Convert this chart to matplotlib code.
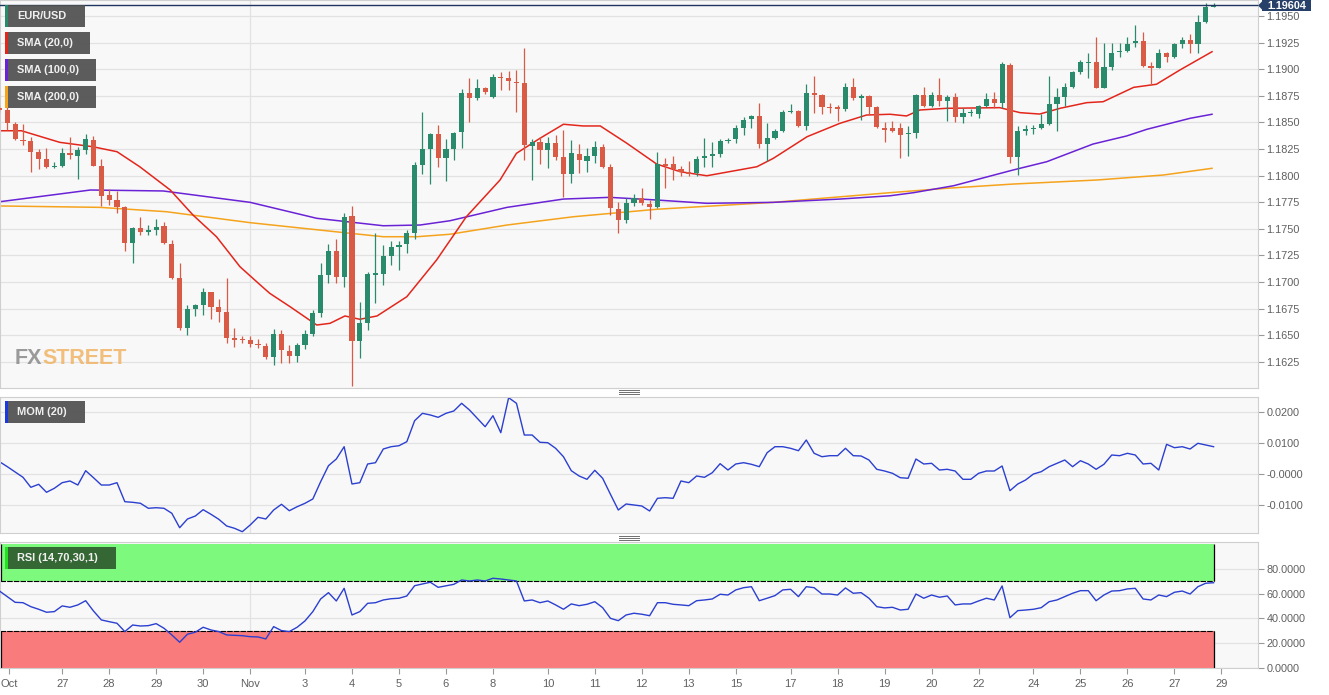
import numpy as np
import matplotlib
matplotlib.use("Agg")
import matplotlib.pyplot as plt
from matplotlib.patches import Rectangle, Polygon
from matplotlib.lines import Line2D

plt.rcParams['font.family'] = ['Liberation Sans', 'DejaVu Sans']

# ---- EUR/USD 4h candles, Oct 26 - Nov 28 ----
opens = [1.18635, 1.18616, 1.18484, 1.18334, 1.18325, 1.18218, 1.18153, 1.18080, 1.18090, 1.18215,
         1.18186, 1.18240, 1.18334, 1.18090, 1.17817, 1.17770, 1.17701, 1.17363, 1.17510, 1.17472,
         1.17488, 1.17526, 1.17356, 1.17034, 1.16570, 1.16743, 1.16783, 1.16902, 1.16767, 1.16720,
         1.16470, 1.16463, 1.16454, 1.16416, 1.16400, 1.16297, 1.16510, 1.16353, 1.16306, 1.16404,
         1.16510, 1.16711, 1.17065, 1.17293, 1.17049, 1.17620, 1.16445, 1.16611, 1.17065, 1.17074,
         1.17246, 1.17325, 1.17354, 1.17457, 1.18099, 1.18249, 1.18388, 1.18168, 1.18247, 1.18412,
         1.18779, 1.18732, 1.18820, 1.18741, 1.18929, 1.18914, 1.18882, 1.18867, 1.18280, 1.18318,
         1.18240, 1.18309, 1.18171, 1.18012, 1.18202, 1.18139, 1.18186, 1.18271, 1.18083, 1.17683,
         1.17582, 1.17739, 1.17786, 1.17732, 1.17707, 1.18106, 1.18106, 1.18059, 1.18036, 1.18021,
         1.18162, 1.18184, 1.18202, 1.18325, 1.18341, 1.18450, 1.18529, 1.18560, 1.18296, 1.18350,
         1.18421, 1.18594, 1.18607, 1.18466, 1.18773, 1.18757, 1.18647, 1.18641, 1.18625, 1.18829,
         1.18732, 1.18750, 1.18641, 1.18447, 1.18444, 1.18444, 1.18388, 1.18397, 1.18757, 1.18654,
         1.18757, 1.18703, 1.18735, 1.18547, 1.18585, 1.18576, 1.18654, 1.18719, 1.18685, 1.19039,
         1.18171, 1.18419, 1.18435, 1.18450, 1.18482, 1.18672, 1.18735, 1.18829, 1.18976, 1.19061,
         1.19070, 1.18826, 1.19023, 1.19158, 1.19173, 1.19243, 1.19265, 1.19030, 1.19014, 1.19155,
         1.19111, 1.19236, 1.19274, 1.19236, 1.19446, 1.19587]
highs = [1.18663, 1.18654, 1.18503, 1.18484, 1.18362, 1.18247, 1.18262, 1.18130, 1.18256, 1.18359,
         1.18271, 1.18388, 1.18372, 1.18153, 1.17871, 1.17857, 1.17714, 1.17519, 1.17613, 1.17535,
         1.17591, 1.17566, 1.17394, 1.17175, 1.16783, 1.16792, 1.16940, 1.16908, 1.16837, 1.17040,
         1.16564, 1.16492, 1.16492, 1.16463, 1.16423, 1.16555, 1.16548, 1.16407, 1.16423, 1.16548,
         1.16736, 1.17181, 1.17356, 1.17401, 1.17651, 1.17714, 1.16814, 1.17096, 1.17457, 1.17347,
         1.17387, 1.17387, 1.17488, 1.18130, 1.18600, 1.18397, 1.18475, 1.18341, 1.18412, 1.18811,
         1.18914, 1.18905, 1.18835, 1.18954, 1.18976, 1.18985, 1.18992, 1.19196, 1.18341, 1.18365,
         1.18365, 1.18381, 1.18428, 1.18334, 1.18296, 1.18256, 1.18327, 1.18296, 1.18106, 1.17754,
         1.17786, 1.17824, 1.17880, 1.17770, 1.18224, 1.18165, 1.18184, 1.18090, 1.18139, 1.18184,
         1.18350, 1.18318, 1.18341, 1.18350, 1.18475, 1.18553, 1.18569, 1.18685, 1.18497, 1.18435,
         1.18616, 1.18672, 1.18616, 1.18860, 1.18936, 1.18766, 1.18679, 1.18663, 1.18867, 1.18914,
         1.18766, 1.18757, 1.18654, 1.18506, 1.18515, 1.18491, 1.18466, 1.18766, 1.18829, 1.18788,
         1.18914, 1.18757, 1.18779, 1.18632, 1.18623, 1.18663, 1.18779, 1.18788, 1.19070, 1.19061,
         1.18466, 1.18475, 1.18475, 1.18578, 1.18936, 1.18820, 1.18867, 1.18985, 1.19086, 1.19155,
         1.19299, 1.19243, 1.19243, 1.19249, 1.19299, 1.19415, 1.19346, 1.19070, 1.19187, 1.19164,
         1.19243, 1.19305, 1.19330, 1.19509, 1.19625, 1.19619]
lows = [1.18597, 1.18428, 1.18334, 1.18287, 1.18033, 1.18059, 1.18068, 1.18074, 1.18077, 1.18153,
        1.17965, 1.18202, 1.18090, 1.17714, 1.17723, 1.17645, 1.17293, 1.17175, 1.17441, 1.17441,
        1.17441, 1.17356, 1.17025, 1.16548, 1.16501, 1.16680, 1.16689, 1.16649, 1.16626, 1.16423,
        1.16391, 1.16426, 1.16391, 1.16379, 1.16273, 1.16219, 1.16241, 1.16235, 1.16250, 1.16367,
        1.16492, 1.16673, 1.16987, 1.16987, 1.16955, 1.16022, 1.16282, 1.16548, 1.16799, 1.16971,
        1.17159, 1.17112, 1.17275, 1.17401, 1.18014, 1.17920, 1.18083, 1.17951, 1.18146, 1.18256,
        1.18506, 1.18710, 1.18766, 1.18732, 1.18804, 1.18804, 1.18600, 1.18146, 1.17958, 1.18106,
        1.18068, 1.18146, 1.17801, 1.17927, 1.18027, 1.18036, 1.18115, 1.18068, 1.17629, 1.17457,
        1.17557, 1.17714, 1.17723, 1.17589, 1.17692, 1.17880, 1.17958, 1.17998, 1.17996, 1.17996,
        1.18077, 1.18083, 1.18177, 1.18303, 1.18303, 1.18381, 1.18444, 1.18256, 1.18139, 1.18341,
        1.18412, 1.18585, 1.18459, 1.18428, 1.18585, 1.18578, 1.18585, 1.18515, 1.18609, 1.18710,
        1.18522, 1.18569, 1.18444, 1.18318, 1.18412, 1.18162, 1.18184, 1.18350, 1.18647, 1.18647,
        1.18654, 1.18515, 1.18506, 1.18497, 1.18560, 1.18538, 1.18641, 1.18632, 1.18632, 1.18121,
        1.18005, 1.18381, 1.18390, 1.18435, 1.18478, 1.18421, 1.18654, 1.18820, 1.18954, 1.18914,
        1.18820, 1.18820, 1.18992, 1.19111, 1.19164, 1.19211, 1.19023, 1.18851, 1.19008, 1.19070,
        1.19102, 1.19196, 1.19155, 1.19149, 1.19437, 1.19581]
closes = [1.18616, 1.18494, 1.18343, 1.18325, 1.18221, 1.18158, 1.18077, 1.18090, 1.18209, 1.18190,
          1.18240, 1.18341, 1.18092, 1.17810, 1.17770, 1.17707, 1.17363, 1.17504, 1.17469, 1.17488,
          1.17519, 1.17363, 1.17040, 1.16564, 1.16743, 1.16783, 1.16902, 1.16767, 1.16720, 1.16470,
          1.16454, 1.16454, 1.16416, 1.16407, 1.16297, 1.16510, 1.16360, 1.16306, 1.16404, 1.16510,
          1.16711, 1.17065, 1.17293, 1.17049, 1.17613, 1.16445, 1.16611, 1.17072, 1.17081, 1.17246,
          1.17325, 1.17347, 1.17457, 1.18099, 1.18249, 1.18388, 1.18168, 1.18247, 1.18403, 1.18779,
          1.18732, 1.18820, 1.18788, 1.18929, 1.18920, 1.18891, 1.18867, 1.18287, 1.18318, 1.18240,
          1.18309, 1.18171, 1.18012, 1.18209, 1.18146, 1.18186, 1.18271, 1.18083, 1.17692, 1.17582,
          1.17739, 1.17786, 1.17739, 1.17701, 1.18106, 1.18090, 1.18059, 1.18036, 1.18014, 1.18155,
          1.18184, 1.18202, 1.18327, 1.18326, 1.18450, 1.18522, 1.18560, 1.18296, 1.18350, 1.18421,
          1.18594, 1.18607, 1.18466, 1.18779, 1.18757, 1.18647, 1.18632, 1.18625, 1.18829, 1.18726,
          1.18750, 1.18641, 1.18459, 1.18428, 1.18421, 1.18381, 1.18397, 1.18757, 1.18654, 1.18757,
          1.18703, 1.18735, 1.18547, 1.18585, 1.18586, 1.18654, 1.18719, 1.18685, 1.19046, 1.18171,
          1.18419, 1.18435, 1.18450, 1.18482, 1.18672, 1.18735, 1.18829, 1.18976, 1.19064, 1.19070,
          1.18826, 1.19023, 1.19155, 1.19173, 1.19236, 1.19265, 1.19032, 1.19014, 1.19155, 1.19111,
          1.19236, 1.19274, 1.19236, 1.19446, 1.19581, 1.19604]
last_price = 1.19604

# moving averages, read at sample candles
sma20_i = [0.06, 2.8, 7.7, 11.9, 15.0, 17.9, 21.8, 24.7, 27.7, 30.7, 33.3, 34.5, 37.1, 40.5, 42.2,
           44.1, 46.0, 48.2, 52.0, 55.8, 59.6, 63.9, 66.0, 69.0, 72.0, 74.5, 76.7, 80.1, 83.9, 86.9,
           90.3, 96.7, 98.8, 103.1, 107.3, 110.7, 113.7, 115.8, 117.5, 120.9, 127.7, 130.3, 132.8,
           135.4, 138.8, 140.9, 144.8, 147.7, 150.7, 154.8]
sma20_v = [1.18421, 1.18421, 1.18312, 1.18271, 1.18224, 1.18083, 1.17864, 1.17629, 1.17425, 1.17143,
           1.16971, 1.16893, 1.16767, 1.16595, 1.16611, 1.16680, 1.16649, 1.16680, 1.16861, 1.17206,
           1.17613, 1.17958, 1.18209, 1.18350, 1.18482, 1.18466, 1.18466, 1.18303, 1.18108, 1.18036,
           1.17998, 1.18083, 1.18162, 1.18365, 1.18491, 1.18569, 1.18576, 1.18560, 1.18616, 1.18632,
           1.18638, 1.18591, 1.18578, 1.18632, 1.18685, 1.18694, 1.18829, 1.18858, 1.18992, 1.19164]
sma100_i = [0.06, 11.6, 20.9, 32.0, 40.5, 49.0, 53.7, 57.5, 64.8, 72.0, 77.9, 83.9, 90.3, 98.8,
            107.3, 113.7, 116.7, 121.8, 129.4, 133.7, 139.6, 143.9, 146.5, 152.0, 154.8]
sma100_v = [1.17754, 1.17864, 1.17855, 1.17748, 1.17598, 1.17528, 1.17535, 1.17575, 1.17701, 1.17779,
            1.17795, 1.17770, 1.17739, 1.17748, 1.17779, 1.17810, 1.17839, 1.17904, 1.18052, 1.18130,
            1.18296, 1.18372, 1.18435, 1.18538, 1.18576]
sma200_i = [0.06, 12.8, 21.3, 32.0, 44.8, 49.0, 53.3, 57.5, 64.8, 73.3, 83.9, 98.8, 113.7, 120.9,
            129.4, 140.1, 148.6, 154.8]
sma200_v = [1.17714, 1.17701, 1.17660, 1.17557, 1.17457, 1.17425, 1.17425, 1.17448, 1.17535, 1.17613,
            1.17683, 1.17748, 1.17839, 1.17880, 1.17920, 1.17958, 1.18005, 1.18068]

# momentum (20)
mom = [0.00387, 0.00226, 0.00055, -0.00116, -0.00439, -0.00342, -0.00600, -0.00471, -0.00290, -0.00235,
       -0.00365, 0.00097, -0.00129, -0.00365, -0.00365, -0.00290, -0.00903, -0.00923, -0.00955, -0.01116,
       -0.01097, -0.01116, -0.01277, -0.01742, -0.01461, -0.01365, -0.01161, -0.01310, -0.01471, -0.01687,
       -0.01761, -0.01871, -0.01655, -0.01406, -0.01461, -0.01171, -0.00987, -0.01194, -0.01065, -0.00955,
       -0.00816, -0.00258, 0.00258, 0.00474, 0.00871, -0.00332, -0.00290, 0.00313, 0.00355, 0.00797,
       0.00871, 0.00903, 0.01032, 0.01710, 0.01948, 0.01894, 0.01819, 0.01948, 0.02023, 0.02271,
       0.02055, 0.01787, 0.01516, 0.01871, 0.01323, 0.02452, 0.02271, 0.01248, 0.01248, 0.01013,
       0.01000, 0.00819, 0.00548, 0.00097, -0.00074, -0.00181, 0.00110, -0.00148, -0.00665, -0.01171,
       -0.00977, -0.01010, -0.01042, -0.01203, -0.00794, -0.00774, -0.00794, -0.00235, -0.00290, -0.00074,
       -0.00116, 0.00032, 0.00323, 0.00119, 0.00313, 0.00355, 0.00303, 0.00226, 0.00677, 0.00871,
       0.00871, 0.00819, 0.00742, 0.01087, 0.00658, 0.00548, 0.00581, 0.00581, 0.00819, 0.00581,
       0.00571, 0.00442, 0.00142, 0.00087, 0.00013, -0.00129, -0.00148, 0.00474, 0.00313, 0.00335,
       0.00119, 0.00142, 0.00087, -0.00181, -0.00181, 0.00013, 0.00087, 0.00087, 0.00248, -0.00548,
       -0.00332, -0.00203, -0.00010, 0.00065, 0.00226, 0.00335, 0.00442, 0.00226, 0.00419, 0.00313,
       0.00142, 0.00303, 0.00603, 0.00581, 0.00658, 0.00603, 0.00313, 0.00335, 0.00119, 0.00948,
       0.00839, 0.00871, 0.00797, 0.00981, 0.00926, 0.00871]

# RSI (14)
rsi = [62.0, 57.5, 52.9, 52.6, 49.4, 47.3, 44.9, 45.4, 50.0, 48.9,
       50.8, 54.2, 45.9, 38.7, 37.3, 36.0, 29.3, 34.6, 33.8, 34.1,
       35.7, 32.0, 26.6, 20.7, 27.2, 28.8, 32.8, 30.6, 29.3, 26.6,
       26.3, 26.0, 25.2, 25.0, 23.4, 33.3, 30.1, 29.3, 32.8, 37.9,
       45.4, 55.6, 60.7, 54.0, 64.2, 42.7, 45.4, 52.1, 52.6, 54.8,
       55.8, 56.2, 58.0, 66.3, 67.7, 69.1, 65.0, 66.2, 67.4, 70.9,
       70.1, 70.9, 70.1, 72.3, 71.7, 70.9, 70.1, 54.0, 54.8, 52.6,
       54.0, 50.8, 47.3, 51.6, 50.2, 51.3, 53.4, 48.6, 40.0, 38.1,
       42.7, 44.1, 43.3, 42.1, 52.6, 52.6, 51.3, 50.8, 50.2, 54.2,
       54.8, 55.6, 59.4, 58.8, 62.9, 64.7, 65.5, 54.2, 56.2, 58.3,
       62.9, 63.4, 57.5, 65.5, 64.7, 59.6, 59.6, 58.8, 64.5, 60.2,
       60.7, 56.2, 49.4, 48.4, 48.9, 46.7, 47.3, 59.6, 56.2, 58.8,
       57.0, 58.0, 50.8, 51.6, 51.6, 54.0, 56.2, 54.8, 66.1, 40.5,
       46.2, 46.7, 47.3, 48.6, 53.4, 54.8, 57.5, 60.2, 62.3, 62.3,
       54.2, 58.8, 62.0, 62.3, 63.7, 64.2, 55.6, 54.8, 58.8, 57.5,
       61.0, 62.0, 59.6, 65.5, 68.3, 68.7]

tick_pos = [1.2, 8, 14, 20, 26, 32, 39, 45, 51, 57, 63, 70, 76, 82, 88, 94, 101, 107, 113, 119,
            125, 132, 138, 144, 150, 156]
tick_lab = ['Oct', '27', '28', '29', '30', 'Nov', '3', '4', '5', '6', '8', '10', '11', '12', '13',
            '15', '17', '18', '19', '20', '22', '24', '25', '26', '27', '29']

price_ticks = [1.1625, 1.1650, 1.1675, 1.1700, 1.1725, 1.1750, 1.1775, 1.1800, 1.1825, 1.1850,
               1.1875, 1.1900, 1.1925, 1.1950]
mom_ticks = [-0.01, 0.0, 0.01, 0.02]
mom_labels = ['-0.0100', '-0.0000', '0.0100', '0.0200']
rsi_ticks = [0, 20, 40, 60, 80]

GREEN = '#2a8a6c'
RED = '#d95a45'
BG = '#f8f8f8'
GRID = '#e2e2e2'
LBL = '#606060'

W, H = 1329, 695
fig = plt.figure(figsize=(W / 100, H / 100), dpi=100)
fig.patch.set_facecolor('white')


def add_ax(x0, y0, x1, y1):
    a = fig.add_axes([x0 / W, 1 - y1 / H, (x1 - x0) / W, (y1 - y0) / H])
    a.set_facecolor(BG)
    for s in a.spines.values():
        s.set_color('#cfcfcf')
        s.set_linewidth(0.8)
    a.yaxis.tick_right()
    a.tick_params(axis='y', colors=LBL, labelsize=7.8, length=4, width=0.8, pad=2)
    a.tick_params(axis='y', color='#999999')
    a.grid(axis='y', color=GRID, lw=0.9)
    a.set_axisbelow(True)
    a.set_xlim(0.064, 160.67)
    a.axvline(32, color=GRID, lw=0.9, zorder=0)
    return a


ax = add_ax(0, 0, 1258, 388)
axm = add_ax(0, 396.7, 1258, 533)
axr = add_ax(0, 542.3, 1258, 668.3)

n = len(opens)
idx = np.arange(n)
o = np.array(opens)
c = np.array(closes)
up = c >= o
cols = np.where(up, GREEN, RED)

# SMAs underneath candles
ax.plot(sma200_i, sma200_v, color='#f5a31c', lw=1.1, zorder=2)
ax.plot(sma100_i, sma100_v, color='#6a22d6', lw=1.1, zorder=2)
ax.plot(sma20_i, sma20_v, color='#e3261c', lw=1.1, zorder=2)

ax.vlines(idx, lows, highs, colors=cols, lw=0.9, zorder=3)
body_bot = np.minimum(o, c)
body_h = np.maximum(np.abs(c - o), 0.00009)
ax.bar(idx, body_h, bottom=body_bot, width=0.66, color=cols, lw=0, zorder=4)

ax.axhline(last_price, color='#1f3560', lw=1.0, zorder=5)
ax.set_ylim(1.16003, 1.19650)
ax.set_yticks(price_ticks)
ax.set_yticklabels(['%.4f' % t for t in price_ticks])
ax.tick_params(axis='x', bottom=False, labelbottom=False)

# momentum panel
axm.plot(idx, mom, color='#2b3fd0', lw=1.0)
axm.set_ylim(-0.01913, 0.02484)
axm.set_yticks(mom_ticks)
axm.set_yticklabels(mom_labels)
axm.tick_params(axis='x', bottom=False, labelbottom=False)

# RSI panel
axr.set_ylim(-0.3, 101.3)
axr.fill_between([0.064, n - 1], 70, 100, color='#7dfa7d', lw=0, zorder=1)
axr.fill_between([0.064, n - 1], 0, 30, color='#fa7b7b', lw=0, zorder=1)
axr.hlines([70, 30], 0.064, n - 1, colors='black', lw=0.8, linestyles=(0, (5, 1)), zorder=2)
axr.vlines([0.2, n - 1], 70, 100, colors='black', lw=0.9, zorder=2)
axr.vlines([0.2, n - 1], 0, 30, colors='black', lw=0.9, zorder=2)
axr.plot(idx, rsi, color='#2b3fd0', lw=1.0, zorder=3)
axr.set_yticks(rsi_ticks)
axr.set_yticklabels(['%.4f' % t for t in rsi_ticks])
axr.set_xticks(tick_pos)
axr.set_xticklabels(tick_lab)
axr.tick_params(axis='x', colors=LBL, labelsize=8, length=4, width=0.8, pad=4)
axr.tick_params(axis='x', color='#999999')


def fig_rect(x0, y0, x1, y1, **kw):
    fig.add_artist(Rectangle((x0 / W, 1 - y1 / H), (x1 - x0) / W, (y1 - y0) / H,
                             transform=fig.transFigure, **kw))


def legend_box(x0, y0, x1, y1, stripe, text, bg='#4f4f4f'):
    fig_rect(x0, y0, x1, y1, facecolor=bg, edgecolor='none', alpha=0.92, zorder=10)
    fig_rect(x0, y0, x0 + 2.5, y1, facecolor=stripe, edgecolor='none', zorder=11)
    fig.text((x0 + 12) / W, 1 - (y0 + y1) / 2 / H, text, color='#f0f0f0', fontsize=7.9,
             fontweight='bold', va='center', ha='left', zorder=12)


legend_box(5, 5, 85, 27, '#2a8a6c', 'EUR/USD')
legend_box(5, 32, 90, 54, '#e3261c', 'SMA (20,0)')
legend_box(5, 59, 96, 81, '#6a22d6', 'SMA (100,0)')
legend_box(5, 86, 96, 108, '#f5a31c', 'SMA (200,0)')
legend_box(5, 401, 85, 423, '#1a3ae0', 'MOM (20)')
legend_box(5, 547, 116, 569, '#22e022', 'RSI (14,70,30,1)', bg='#2f5a2f')

# last price tag
fig_rect(1262, 0, 1311, 11, facecolor='#26406a', edgecolor='none', zorder=10)
fig.add_artist(Polygon([(1258 / W, 1 - 5.5 / H), (1262.5 / W, 1 - 1 / H), (1262.5 / W, 1 - 10 / H)],
                       closed=True, transform=fig.transFigure, facecolor='#26406a',
                       edgecolor='none', zorder=10))
fig.text(1286.5 / W, 1 - 5.8 / H, '%.5f' % last_price, color='white', fontsize=7.8,
         fontweight='bold', ha='center', va='center', zorder=11)

# panel drag handles
for yy in (390.3, 392.3, 394.3, 536.3, 538.3, 540.3):
    fig.add_artist(Line2D([619 / W, 639 / W], [1 - yy / H, 1 - yy / H], color='#6f6f6f',
                          lw=0.7, transform=fig.transFigure))

# FXSTREET logo: place STREET right after FX using the measured width
t_fx = fig.text(15 / W, 1 - 364 / H, 'FX', color='#8a8a8a', fontsize=15.5, fontweight='bold',
                alpha=0.85, va='baseline')
fig.canvas.draw()
fx_end = t_fx.get_window_extent().x1
fig.text(fx_end / W, 1 - 364 / H, 'STREET', color='#f0b466', fontsize=15.5, fontweight='bold',
         alpha=0.85, va='baseline')

fig.savefig('out.png', dpi=100, facecolor='white')
